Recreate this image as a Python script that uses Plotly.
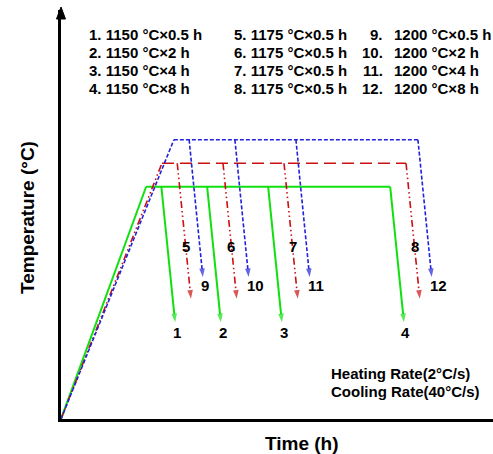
import plotly.graph_objects as go

# ---- data (schematic heat-treatment profiles) ----
series_names = ["1150 °C", "1175 °C", "1200 °C"]
hold_temp_c = [1150, 1175, 1200]          # plateau temperatures
start_temp_c = 903                          # temperature at origin (schematic)
heat_end_h = [2.79, 3.31, 3.70]             # time when plateau reached
hold_h = [0.5, 2, 4, 8]                     # holding times
cool_run_h = 0.45                           # horizontal run of quench arrows
quench_end_c = [1006, 1031, 1054]           # arrow tip temperatures
branch_labels = [["1", "2", "3", "4"], ["5", "6", "7", "8"], ["9", "10", "11", "12"]]
red_label_temp_c = 1086

legend_col1 = ["1. 1150 °C×0.5 h", "2. 1150 °C×2 h", "3. 1150 °C×4 h", "4. 1150 °C×8 h"]
legend_col2 = ["5. 1175 °C×0.5 h", "6. 1175 °C×0.5 h", "7. 1175 °C×0.5 h", "8. 1175 °C×0.5 h"]
legend_col3_num = ["9.", "10.", "11.", "12."]
legend_col3_txt = ["1200 °C×0.5 h", "1200 °C×2 h", "1200 °C×4 h", "1200 °C×8 h"]
rate_text = ["Heating Rate(2°C/s)", "Cooling Rate(40°C/s)"]

x_range = [0, 14.16]
y_range = [903, 1338]

# ---- styles ----
FONT = "Liberation Sans, Arial, sans-serif"
colors = ["#10e010", "#cc1010", "#2222dd"]
ramp_dash = ["solid", "7px,3px,1.5px,3px,1.5px,3px", "4px,2px"]
plateau_dash = ["solid", "12px,6px", "4px,2px"]
drop_dash = ["solid", "7px,3px,1.5px,3px,1.5px,3px", "4px,2px"]
widths = [2, 1.6, 1.6]

L, B, W, H = 61, 419, 432, 409
def px(x):
    return (x - L) / W
def py(y):
    return (B - y) / H

fig = go.Figure()
annotations = []

for i in range(3):
    c = colors[i]
    T = hold_temp_c[i]
    t0 = heat_end_h[i]
    # ramp
    fig.add_trace(go.Scatter(x=[0, t0], y=[start_temp_c, T], mode="lines",
                             line=dict(color=c, width=widths[i], dash=ramp_dash[i]),
                             showlegend=False, hoverinfo="skip"))
    # plateau
    fig.add_trace(go.Scatter(x=[t0, t0 + hold_h[-1]], y=[T, T], mode="lines",
                             line=dict(color=c, width=widths[i], dash=plateau_dash[i]),
                             showlegend=False, hoverinfo="skip"))
    # quench arrows
    for j, h in enumerate(hold_h):
        xs = t0 + h
        xe = xs + cool_run_h
        ye = quench_end_c[i]
        fig.add_trace(go.Scatter(x=[xs, xe], y=[T, ye], mode="lines+markers",
                                 line=dict(color=c, width=widths[i], dash=drop_dash[i]),
                                 marker=dict(symbol="arrow", size=[0, 9], angleref="previous",
                                             color=c, line=dict(width=0)),
                                 showlegend=False, hoverinfo="skip"))
        lab = branch_labels[i][j]
        if i == 0:
            annotations.append(dict(x=xe, y=ye, xref="x", yref="y", text=lab, showarrow=False,
                                    xanchor="center", yanchor="top", xshift=2, yshift=0,
                                    font=dict(family=FONT, size=15, color="black")))
        elif i == 1:
            frac = (T - red_label_temp_c) / (T - ye)
            xl = xs + frac * (xe - xs)
            annotations.append(dict(x=xl, y=red_label_temp_c, xref="x", yref="y", text=lab,
                                    showarrow=False, xanchor="center", yanchor="middle",
                                    font=dict(family=FONT, size=15, color="black")))
        else:
            annotations.append(dict(x=xe, y=ye, xref="x", yref="y", text=lab, showarrow=False,
                                    xanchor="left", yanchor="top", xshift=-4, yshift=2,
                                    font=dict(family=FONT, size=15, color="black")))

# legend text block
row_y = [34, 52, 70, 88]
lf = dict(family=FONT, size=15, color="black")
for k in range(4):
    annotations.append(dict(x=px(87), y=py(row_y[k]), xref="paper", yref="paper",
                            text="<b>%s</b>" % legend_col1[k], showarrow=False,
                            xanchor="left", yanchor="middle", font=lf))
    annotations.append(dict(x=px(232), y=py(row_y[k]), xref="paper", yref="paper",
                            text="<b>%s</b>" % legend_col2[k], showarrow=False,
                            xanchor="left", yanchor="middle", font=lf))
    annotations.append(dict(x=px(385), y=py(row_y[k]), xref="paper", yref="paper",
                            text="<b>%s</b>" % legend_col3_num[k], showarrow=False,
                            xanchor="right", yanchor="middle", font=lf))
    annotations.append(dict(x=px(392), y=py(row_y[k]), xref="paper", yref="paper",
                            text="<b>%s</b>" % legend_col3_txt[k], showarrow=False,
                            xanchor="left", yanchor="middle", font=lf))

for k, t in enumerate(rate_text):
    annotations.append(dict(x=px(329), y=py([373, 391][k]), xref="paper", yref="paper",
                            text="<b>%s</b>" % t, showarrow=False,
                            xanchor="left", yanchor="middle", font=lf))

# axis titles
annotations.append(dict(x=px(302), y=py(443), xref="paper", yref="paper",
                        text="<b>Time (h)</b>", showarrow=False, xanchor="center",
                        yanchor="middle", font=dict(family=FONT, size=19, color="black")))
annotations.append(dict(x=px(27), y=py(218), xref="paper", yref="paper",
                        text="<b>Temperature (°C)</b>", showarrow=False, textangle=-90,
                        xanchor="center", yanchor="middle",
                        font=dict(family=FONT, size=19, color="black")))

# bold labels on branches
for a in annotations:
    if not a["text"].startswith("<b>"):
        a["text"] = "<b>%s</b>" % a["text"]

shapes = [dict(type="path", xref="paper", yref="paper",
               path="M %f,%f L %f,%f L %f,%f Z" % (px(61), py(7), px(56.5), py(19), px(65.5), py(19)),
               fillcolor="black", line=dict(color="black", width=1))]

fig.update_layout(
    width=493, height=454,
    margin=dict(l=L, r=0, t=10, b=454 - B),
    paper_bgcolor="white", plot_bgcolor="white",
    xaxis=dict(range=x_range, showline=True, linecolor="black", linewidth=3,
               showgrid=False, zeroline=False, showticklabels=False, ticks=""),
    yaxis=dict(range=y_range, showline=True, linecolor="black", linewidth=3,
               showgrid=False, zeroline=False, showticklabels=False, ticks=""),
    annotations=annotations, shapes=shapes, showlegend=False,
)

fig.write_html("out.html", config={"displayModeBar": False},
               post_script="document.body.style.margin='0';document.body.style.overflow='hidden';")
